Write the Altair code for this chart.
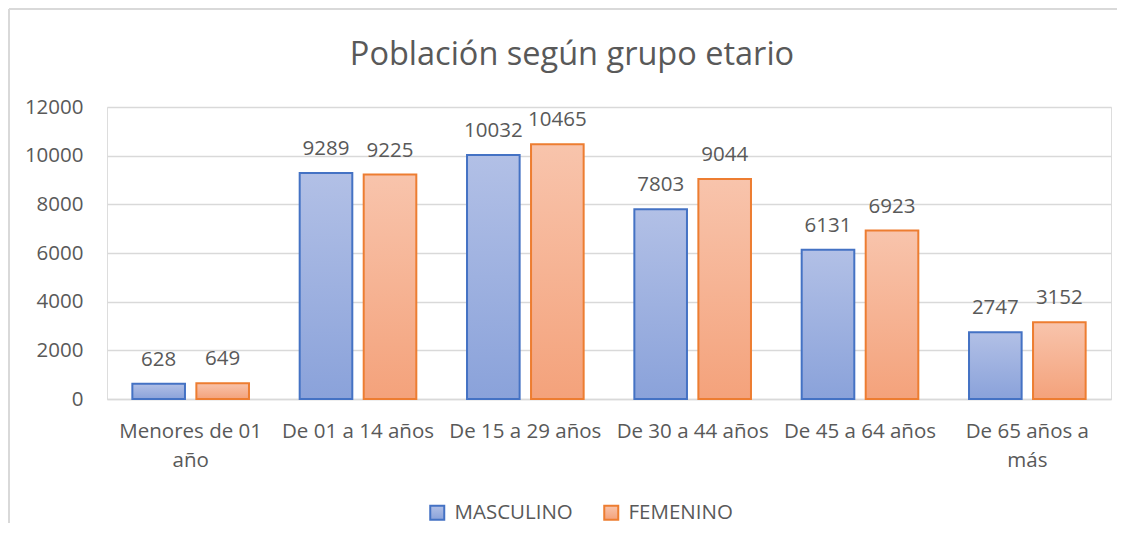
import altair as alt
import pandas as pd

categories = ["Menores de 01 año", "De 01 a 14 años", "De 15 a 29 años",
              "De 30 a 44 años", "De 45 a 64 años", "De 65 años a más"]
series = ["MASCULINO", "FEMENINO"]
masculino = [628, 9289, 10032, 7803, 6131, 2747]
femenino = [649, 9225, 10465, 9044, 6923, 3152]
y_ticks = [0, 2000, 4000, 6000, 8000, 10000, 12000]
chart_title = ["Población según grupo etario"]

rows = []
for c, m, f in zip(categories, masculino, femenino):
    rows.append({"grupo": c, "sexo": "MASCULINO", "valor": m})
    rows.append({"grupo": c, "sexo": "FEMENINO", "valor": f})
df = pd.DataFrame(rows)

FONT = "Open Sans"
GREY = "#595959"
FS = 20.5

masc_grad = ("{gradient:'linear',x1:0,y1:0,x2:0,y2:1,stops:["
             "{offset:0,color:'#b2c0e6'},{offset:1,color:'#8aa2da'}]}")
fem_grad = ("{gradient:'linear',x1:0,y1:0,x2:0,y2:1,stops:["
            "{offset:0,color:'#f8c4ac'},{offset:1,color:'#f4a27b'}]}")

label_expr = ("datum.value == 'Menores de 01 año' ? ['Menores de 01', 'año'] : "
              "datum.value == 'De 65 años a más' ? ['De 65 años a', 'más'] : datum.label")

base = alt.Chart(df).encode(
    x=alt.X("grupo:N", sort=categories,
            scale=alt.Scale(paddingInner=0.303, paddingOuter=0.1515),
            axis=alt.Axis(title=None, labelAngle=0, labelFontSize=FS, labelColor=GREY,
                          labelFont=FONT, labelPadding=22, ticks=False,
                          domainColor="#d9d9d9", domainWidth=1.5,
                          labelLineHeight=29, labelExpr=label_expr, labelLimit=0)),
    xOffset=alt.XOffset("sexo:N", sort=series,
                        scale=alt.Scale(domain=series, paddingInner=0.178, paddingOuter=0)),
    y=alt.Y("valor:Q", scale=alt.Scale(domain=[0, 12000], nice=False),
            axis=alt.Axis(title=None, values=y_ticks, format="d", ticks=False, domain=False,
                          gridColor="#d9d9d9", gridWidth=1.5, labelPadding=24,
                          labelFontSize=FS, labelColor=GREY, labelFont=FONT)),
)

bars = base.mark_bar(strokeWidth=2).encode(
    fill=alt.Fill("sexo:N", title=None,
                  scale=alt.Scale(domain=series,
                                  range=[alt.ExprRef(masc_grad), alt.ExprRef(fem_grad)]),
                  legend=alt.Legend(orient="none", legendX=320, legendY=395,
                                    direction="horizontal", symbolType="square",
                                    symbolSize=196, symbolStrokeWidth=2, labelOffset=7,
                                    columnPadding=27, labelFontSize=FS, labelColor=GREY,
                                    labelFont=FONT, padding=0, labelLimit=0)),
    stroke=alt.Stroke("sexo:N", title=None,
                      scale=alt.Scale(domain=series, range=["#4472c4", "#ed7d31"])),
)

labels = base.mark_text(baseline="alphabetic", dy=-18, fontSize=FS, color=GREY,
                        font=FONT).encode(text=alt.Text("valor:Q"))

border_df = pd.DataFrame({"k": [0]})
left_border = alt.Chart(border_df).mark_rule(color="#d9d9d9", strokeWidth=2).encode(
    x=alt.value(-98), y=alt.value(-98), y2=alt.value(500))
top_border = alt.Chart(border_df).mark_rule(color="#d9d9d9", strokeWidth=2).encode(
    x=alt.value(-98), x2=alt.value(1100), y=alt.value(-98))

title_df = pd.DataFrame({"t": chart_title})
title = alt.Chart(title_df).mark_text(fontSize=32.5, font=FONT, color=GREY,
                                      align="center", baseline="alphabetic").encode(
    text="t:N", x=alt.value(465), y=alt.value(-42))

chart = alt.layer(left_border, top_border, title, bars, labels).properties(
    width=1004, height=292,
    autosize=alt.AutoSizeParams(type="none"),
    padding={"left": 99, "top": 99, "right": 6, "bottom": 124},
).configure_view(stroke=None).configure(background="white")

chart.save("out.html", embed_options={"renderer": "svg", "actions": False})
